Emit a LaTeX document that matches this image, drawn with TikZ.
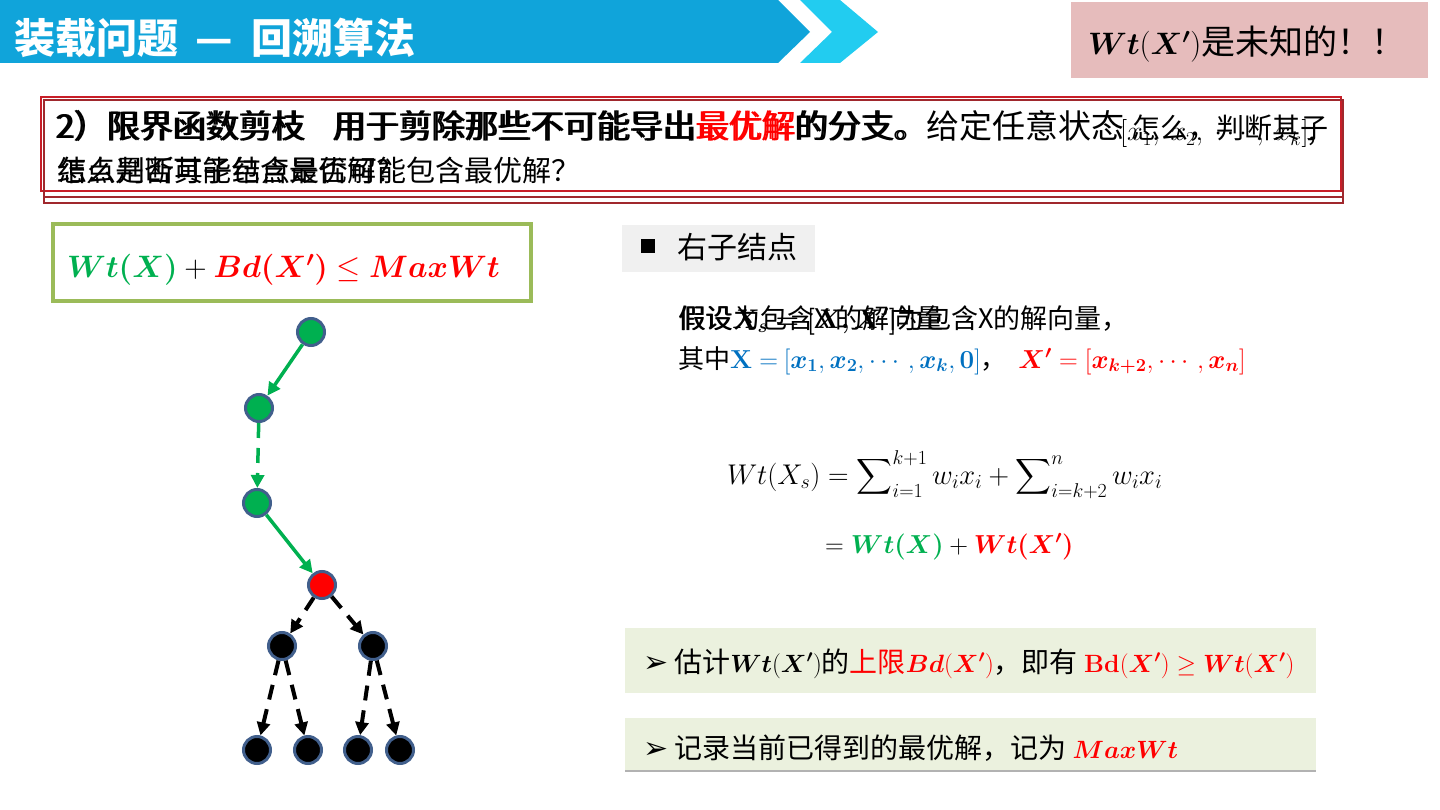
\RequirePackage{fix-cm}
\documentclass[tikz,border=0pt]{standalone}
\usepackage{amsmath}
\usepackage{bm}
\usepackage[no-math]{fontspec}
\setmainfont{Noto Sans CJK SC}
\newfontfamily\dejavu{DejaVu Sans}
\usetikzlibrary{arrows.meta}
\definecolor{banner}{RGB}{16,164,218}
\definecolor{chev}{RGB}{34,204,240}
\definecolor{pinkbox}{RGB}{230,188,188}
\definecolor{gtext}{RGB}{0,176,80}
\definecolor{rtext}{RGB}{255,0,0}
\definecolor{btext}{RGB}{0,112,192}
\definecolor{olive}{RGB}{155,187,89}
\definecolor{nodeb}{RGB}{65,95,140}
\definecolor{redA}{RGB}{200,30,40}
\definecolor{redB}{RGB}{160,40,45}
\definecolor{itembg}{RGB}{235,241,222}
\definecolor{graybg}{RGB}{240,240,240}
\tikzset{
  txt/.style={inner sep=0pt, outer sep=0pt, anchor=base west},
  tn/.style={circle, draw=nodeb, line width=3pt, minimum size=27pt, inner sep=0pt},
  garr/.style={draw=gtext, line width=3.5pt, -{Triangle[length=13pt,width=13pt]}},
  barr/.style={draw=black, line width=4pt, dash pattern=on 15pt off 10pt, -{Triangle[length=13pt,width=13pt]}},
}
\newcommand{\fs}[1]{\fontsize{#1}{#1}\selectfont}
\newcommand{\mth}[1]{{\fs{25}$#1$}}
\begin{document}
\begin{tikzpicture}[x=1pt,y=-1pt]
\useasboundingbox (0,0) rectangle (1440,810);
% banner
\fill[banner] (0,0) -- (778,0) -- (810,32) -- (778,63) -- (0,63) -- cycle;
\fill[chev] (800,0) -- (840,0) -- (878,32) -- (840,63) -- (800,63) -- (832,32) -- cycle;
\node[txt, text=white] (title) at (14,54) {\fs{41}\bfseries 装载问题\hspace{18pt}—\hspace{18pt}回溯算法};
% pink box
\node[fill=pinkbox, minimum width=357pt, minimum height=76pt, anchor=north west, inner sep=0pt] (pink) at (1071,2) {};
\node[txt] (pinktxt) at (1088,55) {\fs{31}$\bm{Wt}(\bm{X'})$\fs{34}是未知的！！};
% red boxes
\draw[redA, line width=1.5pt] (41,97) rectangle (1341,191);
\draw[redB, line width=1.5pt] (44,100) rectangle (1343,203);
\draw[redB, line width=1.2pt] (44,197) -- (1343,197);
% line 1 (two layers)
\node[txt] (l1a) at (55,139) {\fs{33}2）限界函数剪枝\hspace{28pt}用于剪除那些不可能导出{\color{rtext}最优解}的分支。给定任意状态};
\node[txt] (l1b) at (57,139) {\fs{33}2）限界函数剪枝\hspace{28pt}用于剪除那些不可能导出{\color{rtext}最优解}的分支。};
\node[txt] (l1m) at (1120,141) {\fs{28}$[x_1,\ x_2,\ \cdots,\ x_k]$,};
\node[txt] (l1c) at (1132,139) {\fs{28}怎么，判断其子};
% line 2 (two layers)
\node[txt] (l2a) at (57,182) {\fs{29}结点是否可能包含最优解?};
\node[txt] (l2b) at (58,182) {\fs{29}怎么判断其子结点是否可能包含最优解？};
% green box
\node[draw=olive, line width=4pt, minimum width=478pt, minimum height=77pt, anchor=north west, inner sep=0pt] (gbox) at (51,222) {};
\node[txt] (gform) at (67,278) {\fs{31}$\color{gtext}\bm{Wt(X)} \color{black}+ \color{rtext}\bm{Bd(X')} \leq \bm{MaxWt}$};
% tree
\node[tn, fill=gtext] (n1) at (311,332) {};
\node[tn, fill=gtext] (n2) at (259,408) {};
\node[tn, fill=gtext] (n3) at (257,503) {};
\node[tn, fill=rtext] (n4) at (322,585) {};
\node[tn, fill=black] (n5) at (282,646) {};
\node[tn, fill=black] (n6) at (373,646) {};
\node[tn, fill=black] (m1) at (257,750) {};
\node[tn, fill=black] (m2) at (308,750) {};
\node[tn, fill=black] (m3) at (358,750) {};
\node[tn, fill=black] (m4) at (400,750) {};
\draw[garr] (n1) -- (n2);
\draw[garr, dash pattern=on 15pt off 10pt] (n2) -- (n3);
\draw[garr] (n3) -- (n4);
\draw[barr] (n4) -- (n5);
\draw[barr] (n4) -- (n6);
\draw[barr] (n5) -- (m1);
\draw[barr] (n5) -- (m2);
\draw[barr] (n6) -- (m3);
\draw[barr] (n6) -- (m4);
% right header
\node[fill=graybg, minimum width=193pt, minimum height=47pt, anchor=north west, inner sep=0pt] (hbox) at (622,225) {};
\fill (641,239) rectangle (655,253);
\node[txt] (htxt) at (677,259) {\fs{30}右子结点};
% assumption lines
\node[txt] (a1) at (678,328) {\fs{27}假设$\bm{X_s = [X, X']}$为包含X的解向量，};
\node[txt] (a2) at (679,328) {\fs{27}假设为包含X 的解向量};
\node[txt] (b1) at (678,368) {\fs{26}其中{\color{btext}$\mathbf{X =}\ [\bm{x_1}, \bm{x_2}, \cdots, \bm{x_k}, \mathbf{0}]$}，\ \ {\color{rtext}$\bm{X'} = [\bm{x_{k+2}}, \cdots, \bm{x_n}]$}};
% equation
\node[txt] (eq1) at (727,484) {\fs{28.5}$\displaystyle Wt(X_s) = \sum\nolimits_{i=1}^{k+1} w_i x_i + \sum\nolimits_{i=k+2}^{n} w_i x_i$};
\node[txt] (eq2) at (825,553) {\fs{26}$= {\color{gtext}\bm{Wt(X)}} + {\color{rtext}\bm{Wt(X')}}$};
% items
\node[fill=itembg, minimum width=691pt, minimum height=65pt, anchor=north west, inner sep=0pt] (it1) at (625,628) {};
\node[txt] (it1t) at (643,672) {\fs{28}{\dejavu\fs{30}➢} 估计\mth{\bm{Wt}(\bm{X'})}的{\color{rtext}上限\mth{\bm{Bd}(\bm{X'})}}，即有 {\color{rtext}\mth{\mathbf{Bd}(\bm{X'}) \geq \bm{Wt}(\bm{X'})}}};
\node[fill=itembg, minimum width=691pt, minimum height=52pt, anchor=north west, inner sep=0pt] (it2) at (625,718) {};
\draw[gray!60, line width=1.2pt] (625,771) -- (1316,771);
\node[txt] (it2t) at (643,758) {\fs{28}{\dejavu\fs{30}➢} 记录当前已得到的最优解，记为\ {\color{rtext}\mth{\bm{MaxWt}}}};
\end{tikzpicture}
\end{document}
